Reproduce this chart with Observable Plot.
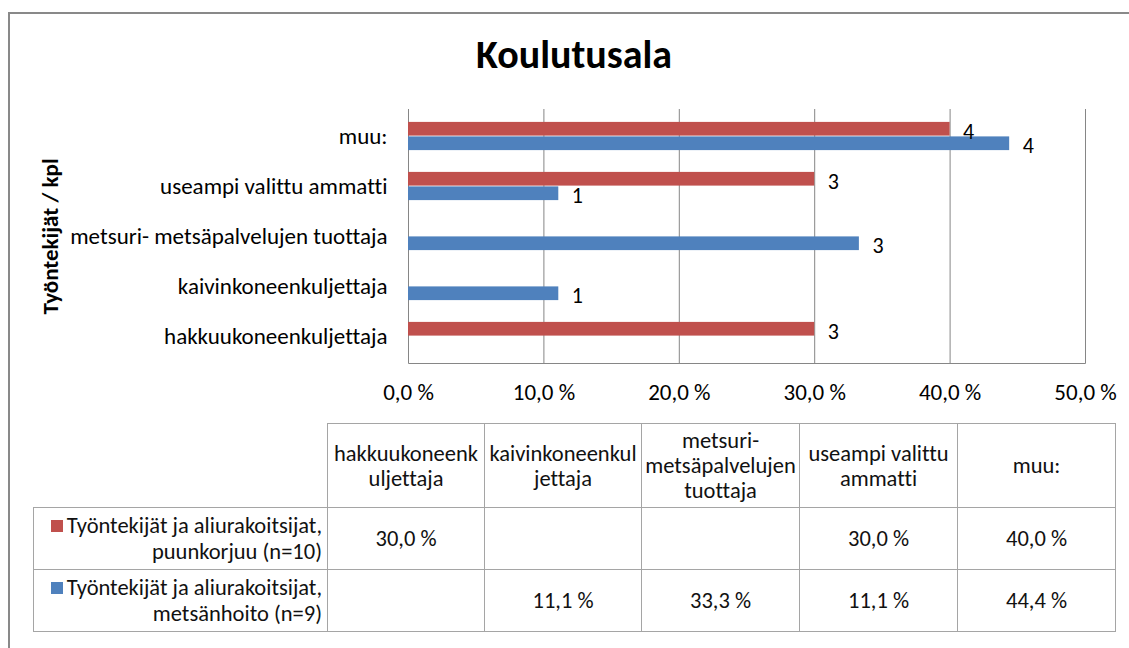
<!DOCTYPE html>
<html>
<head>
<meta charset="utf-8">
<script src="https://cdn.jsdelivr.net/npm/d3@7"></script>
<script src="https://cdn.jsdelivr.net/npm/@observablehq/plot@0.6"></script>
<style>
  html, body { margin: 0; padding: 0; background: #fff; }
  body { width: 1129px; height: 648px; overflow: hidden; position: relative; font-family: Carlito, Lato, "Liberation Sans", sans-serif; font-variant-ligatures: none; }
  #frame { position: absolute; left: 8px; top: 12px; width: 1200px; height: 700px; border: 2px solid #898989; box-sizing: border-box; }
  #title { position: absolute; left: 0; width: 1148px; top: 30px; text-align: center; font-weight: bold; font-size: 40px; color: #000; }
  #chart { position: absolute; left: 0; top: 95px; }
  #chart svg { font-variant-ligatures: none; }
  #chart svg [aria-label="y-axis label"] text, #chart svg [aria-label="y-axis label"] { font-weight: bold; font-size: 23px; }
  #tbl { position: absolute; left: 33px; top: 423px; border-collapse: collapse; table-layout: fixed; font-size: 22.5px; color: #111; }
  #tbl td { border: 1px solid #a5a5a5; text-align: center; vertical-align: middle; padding: 0; line-height: 25px; white-space: pre; overflow: hidden; }
  #tbl td.blank { border-top: none; border-left: none; }
  #tbl td.leg { text-align: right; padding-right: 5px; line-height: 26px; }
  .sw { display: inline-block; width: 12px; height: 12px; margin-right: 4px; vertical-align: 1px; }
</style>
</head>
<body>
<div id="frame"></div>
<div id="title">Koulutusala</div>
<div id="chart"></div>
<table id="tbl"></table>
<script>
// ---- data ----
const categories = ["hakkuukoneenkuljettaja", "kaivinkoneenkuljettaja", "metsuri- metsäpalvelujen tuottaja", "useampi valittu ammatti", "muu:"];
const headerLabels = ["hakkuukoneenk\nuljettaja", "kaivinkoneenkul\njettaja", "metsuri-\nmetsäpalvelujen\ntuottaja", "useampi valittu\nammatti", "muu:"];
const seriesNames = ["Työntekijät ja aliurakoitsijat, puunkorjuu (n=10)", "Työntekijät ja aliurakoitsijat, metsänhoito (n=9)"];
const puunkorjuuPct = [30.0, null, null, 30.0, 40.0];
const puunkorjuuCount = [3, null, null, 3, 4];
const metsanhoitoPct = [null, 11.1, 33.3, 11.1, 44.4];
const metsanhoitoCount = [null, 1, 3, 1, 4];
const xTicks = [0, 10, 20, 30, 40, 50];
const colors = ["#C0504D", "#4F81BD"];
const yLabel = "Työntekijät / kpl";

// ---- layout ----
const FONT = 'Carlito, Lato, "Liberation Sans", sans-serif';
const W = 1129, H = 320, mt = 14, mb = 52, ml = 408, mr = 44;
const plotW = W - ml - mr, plotH = H - mt - mb;
const band = plotH / categories.length, half = band / 2, bh = 14.5;
const grid = "#868686";
const fmt = v => v.toFixed(1).replace(".", ",") + " %";

const pctSeries = [puunkorjuuPct, metsanhoitoPct];
const cntSeries = [puunkorjuuCount, metsanhoitoCount];
const rows = [];
pctSeries.forEach((arr, s) => arr.forEach((v, i) => {
  if (v != null) rows.push({s, cat: categories[i], pct: v, count: cntSeries[s][i]});
}));
const red = rows.filter(d => d.s === 0), blue = rows.filter(d => d.s === 1);

const chart = Plot.plot({
  width: W, height: H,
  marginTop: mt, marginBottom: mb, marginLeft: ml, marginRight: mr,
  style: {fontFamily: FONT, fontSize: "23px", color: "#000", background: "transparent"},
  x: {domain: [0, 50], ticks: xTicks, tickFormat: fmt, tickSize: 0, tickPadding: 20, label: null},
  y: {domain: categories.slice().reverse(), padding: 0, tickSize: 0, tickPadding: 21,
      label: yLabel, labelAnchor: "center", labelOffset: 367},
  marks: [
    Plot.ruleX(xTicks, {stroke: grid, strokeWidth: 1}),
    Plot.frame({stroke: grid, strokeDasharray: `0 ${plotW} ${2 * plotH + plotW + 10}`}),
    Plot.barX(red, {x: "pct", y: "cat", fill: colors[0], insetTop: half - bh, insetBottom: half}),
    Plot.barX(blue, {x: "pct", y: "cat", fill: colors[1], insetTop: half, insetBottom: half - bh}),
    Plot.text(red, {x: "pct", y: "cat", text: "count", textAnchor: "start", dx: 13, dy: -5, fill: "#000", fontSize: 22}),
    Plot.text(blue, {x: "pct", y: "cat", text: "count", textAnchor: "start", dx: 13, dy: 9, fill: "#000", fontSize: 22})
  ]
});
document.getElementById("chart").appendChild(chart);

// ---- data table ----
const tbl = document.getElementById("tbl");
const colgroup = document.createElement("colgroup");
[294, 157, 157, 158, 158, 158].forEach(w => { const c = document.createElement("col"); c.style.width = w + "px"; colgroup.appendChild(c); });
tbl.appendChild(colgroup);
const hr = document.createElement("tr");
hr.style.height = "84px";
const blank = document.createElement("td"); blank.className = "blank"; hr.appendChild(blank);
headerLabels.forEach(h => { const td = document.createElement("td"); td.textContent = h; hr.appendChild(td); });
tbl.appendChild(hr);
seriesNames.forEach((name, s) => {
  const tr = document.createElement("tr");
  tr.style.height = "62px";
  const td = document.createElement("td"); td.className = "leg";
  const parts = name.split(", ");
  const sw = document.createElement("span"); sw.className = "sw"; sw.style.background = colors[s];
  td.appendChild(sw);
  td.appendChild(document.createTextNode(parts[0] + ",\n" + parts[1]));
  tr.appendChild(td);
  pctSeries[s].forEach(v => { const c = document.createElement("td"); c.textContent = v == null ? "" : fmt(v); tr.appendChild(c); });
  tbl.appendChild(tr);
});
</script>
</body>
</html>
